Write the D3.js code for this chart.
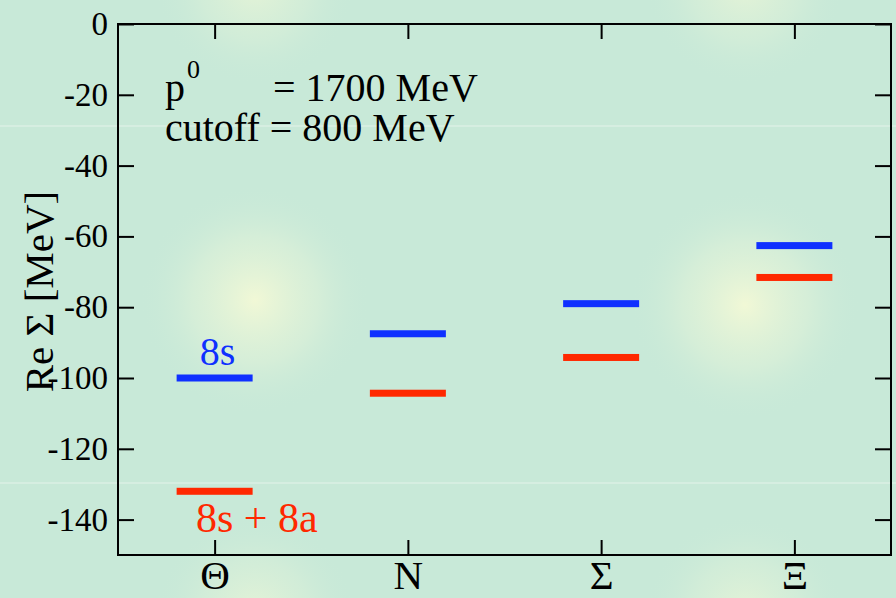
<!DOCTYPE html>
<html>
<head>
<meta charset="utf-8">
<script src="https://cdn.jsdelivr.net/npm/d3@7"></script>
<style>
  html, body { margin: 0; padding: 0; background: #c8e9d8; }
  svg { display: block; }
  text { font-family: "Liberation Serif", "DejaVu Serif", serif; fill: #000; }
</style>
</head>
<body>
<svg id="chart" width="896" height="598"></svg>
<script>
// ---- data ----
const categories = ["Θ", "N", "Σ", "Ξ"];
const values8s = [-100, -87.5, -79, -62.6];          // blue
const values8s8a = [-132, -104.3, -94.2, -71.6];     // red
const yTicks = [0, -20, -40, -60, -80, -100, -120, -140];
const yDomain = [-150, 0];

const W = 896, H = 598;
const margin = { left: 118, right: 5, top: 24, bottom: 43 };
const svg = d3.select("#chart");

// ---- background ----
const defs = svg.append("defs");
const grad = defs.append("radialGradient").attr("id", "glow");
grad.append("stop").attr("offset", "0%").attr("stop-color", "#f1f8d6").attr("stop-opacity", 1);
grad.append("stop").attr("offset", "55%").attr("stop-color", "#e0f2d8").attr("stop-opacity", 0.55);
grad.append("stop").attr("offset", "100%").attr("stop-color", "#c8e9d8").attr("stop-opacity", 0);
svg.append("rect").attr("width", W).attr("height", H).attr("fill", "#c8e9d8");
const glows = [[255, 300, 115, 1], [745, 305, 115, 1], [255, -15, 100, 0.7], [745, -15, 100, 0.7], [255, 615, 100, 0.7], [745, 615, 100, 0.7]];
svg.append("g").selectAll("circle").data(glows).join("circle")
  .attr("cx", d => d[0]).attr("cy", d => d[1]).attr("r", d => d[2])
  .attr("opacity", d => d[3])
  .attr("fill", "url(#glow)");
svg.append("g").selectAll("line").data([126, 483]).join("line")
  .attr("x1", 0).attr("x2", W).attr("y1", d => d).attr("y2", d => d)
  .attr("stroke", "#e4f4ea").attr("stroke-width", 1.2);

// ---- scales ----
const x = d3.scalePoint().domain(categories)
  .range([margin.left, W - margin.right]).padding(0.5);
const y = d3.scaleLinear().domain(yDomain).range([H - margin.bottom, margin.top]);

const x0 = margin.left, x1 = W - margin.right;
const y0 = margin.top, y1 = H - margin.bottom;

// ---- axes ----
const axisStyle = g => {
  g.select(".domain").remove();
  g.selectAll(".tick line").attr("stroke", "#000").attr("stroke-width", 2);
};

svg.append("g").attr("transform", `translate(${x0},0)`)
  .call(d3.axisLeft(y).tickValues(yTicks).tickSize(-16).tickPadding(10).tickFormat(d => String(d)))
  .call(axisStyle)
  .call(g => g.selectAll("text").attr("font-size", 33).attr("font-family", "Liberation Serif").attr("fill", "#000"));

svg.append("g").attr("transform", `translate(${x1},0)`)
  .call(d3.axisRight(y).tickValues(yTicks).tickSize(-16).tickFormat(""))
  .call(axisStyle);

svg.append("g").attr("transform", `translate(0,${y1})`)
  .call(d3.axisBottom(x).tickSize(-15).tickPadding(5))
  .call(axisStyle)
  .call(g => g.selectAll("text").attr("font-size", 41).attr("font-family", "Liberation Serif").attr("fill", "#000"));

svg.append("g").attr("transform", `translate(0,${y0})`)
  .call(d3.axisTop(x).tickSize(-15).tickFormat(""))
  .call(axisStyle);

// frame
svg.append("rect").attr("x", x0).attr("y", y0).attr("width", x1 - x0).attr("height", y1 - y0)
  .attr("fill", "none").attr("stroke", "#000").attr("stroke-width", 2);

// ---- level bars ----
const halfW = 38, thick = 7;
const drawLevels = (vals, color) => {
  svg.append("g").selectAll("rect").data(categories).join("rect")
    .attr("x", (d) => x(d) - halfW)
    .attr("y", (d, i) => y(vals[i]) - thick / 2)
    .attr("width", halfW * 2)
    .attr("height", thick)
    .attr("fill", color);
};
drawLevels(values8s, "#0f30ff");
drawLevels(values8s8a, "#ff2800");

// ---- labels ----
svg.append("text").attr("x", x(categories[0]) + 3).attr("y", y(values8s[0]) - 13)
  .attr("text-anchor", "middle").attr("font-size", 40).style("fill", "#0f30ff").text("8s");
svg.append("text").attr("x", 196).attr("y", y(values8s8a[0]) + 41)
  .attr("font-size", 42).style("fill", "#ff2800").text("8s + 8a");

// annotation
const ann = svg.append("g");
ann.append("text").attr("x", 165).attr("y", 101).attr("font-size", 40).text("p");
ann.append("text").attr("x", 187).attr("y", 78).attr("font-size", 26).text("0");
ann.append("text").attr("x", 273).attr("y", 101).attr("font-size", 40).text("= 1700 MeV");
ann.append("text").attr("x", 165).attr("y", 141).attr("font-size", 40).text("cutoff = 800 MeV");

// y axis title
svg.append("text")
  .attr("transform", `translate(53,${(y0 + y1) / 2 + 2}) rotate(-90)`)
  .attr("text-anchor", "middle").attr("font-size", 41)
  .text("Re Σ [MeV]");
</script>
</body>
</html>
